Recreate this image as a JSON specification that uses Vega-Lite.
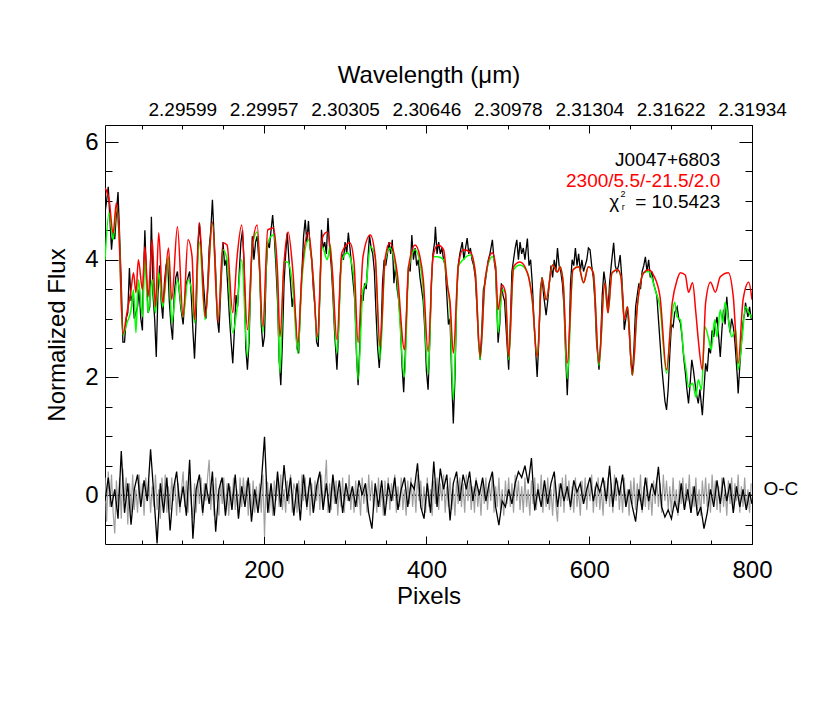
{
"$schema": "https://vega.github.io/schema/vega-lite/v6.json",
"width": 647, "height": 419,
"autosize": {"type": "none"},
"padding": {"left": 105, "top": 125, "right": 78, "bottom": 168},
"background": "white",
"config": {
  "view": {"stroke": "black", "strokeWidth": 1},
  "font": "Liberation Sans",
  "axis": {"labelFont": "Liberation Sans", "titleFont": "Liberation Sans", "labelColor": "black", "titleColor": "black", "tickColor": "black", "tickWidth": 1, "domain": false, "grid": false, "titleFontWeight": "normal", "labelFlush": false, "labelOverlap": false}
},
"datasets": {
"obs": [
{"x":5,"y":4.8},{"x":7,"y":5.0},{"x":9,"y":5.24},{"x":11,"y":4.7},{"x":13,"y":4.17},{"x":15,"y":4.5},{"x":17,"y":4.35},{"x":19,"y":4.8},{"x":21,"y":5.15},{"x":23,"y":4.4},{"x":25,"y":3.6},{"x":27,"y":2.6},{"x":29,"y":2.6},{"x":31,"y":3.0},{"x":33,"y":3.1},{"x":35,"y":3.86},{"x":37,"y":3.3},{"x":39,"y":3.4},{"x":41,"y":3.0},{"x":43,"y":3.1},{"x":45,"y":3.2},{"x":47,"y":3.5},{"x":49,"y":3.0},{"x":51,"y":2.8},{"x":52,"y":3.6},{"x":54,"y":4.5},{"x":56,"y":3.7},{"x":58,"y":3.1},{"x":60,"y":3.2},{"x":62,"y":4.73},{"x":64,"y":3.4},{"x":66,"y":3.0},{"x":68,"y":2.35},{"x":70,"y":3.4},{"x":72,"y":3.9},{"x":74,"y":3.3},{"x":76,"y":3.0},{"x":78,"y":3.6},{"x":80,"y":3.9},{"x":82,"y":4.0},{"x":84,"y":3.3},{"x":86,"y":2.9},{"x":88,"y":2.64},{"x":90,"y":3.4},{"x":92,"y":3.7},{"x":94,"y":3.8},{"x":96,"y":3.5},{"x":98,"y":3.2},{"x":101,"y":2.9},{"x":103,"y":3.3},{"x":105,"y":3.6},{"x":107,"y":3.7},{"x":109,"y":3.8},{"x":111,"y":3.4},{"x":113,"y":2.8},{"x":115,"y":2.32},{"x":117,"y":3.0},{"x":119,"y":4.2},{"x":121,"y":4.63},{"x":123,"y":4.2},{"x":125,"y":3.8},{"x":127,"y":3.4},{"x":129,"y":3.0},{"x":131,"y":3.5},{"x":133,"y":4.2},{"x":135,"y":4.5},{"x":137,"y":5.02},{"x":139,"y":4.4},{"x":141,"y":3.8},{"x":143,"y":3.0},{"x":145,"y":2.76},{"x":147,"y":3.4},{"x":150,"y":4.3},{"x":152,"y":3.9},{"x":154,"y":4.0},{"x":156,"y":3.5},{"x":158,"y":3.0},{"x":160,"y":2.6},{"x":162,"y":2.24},{"x":164,"y":2.8},{"x":166,"y":3.4},{"x":168,"y":3.2},{"x":170,"y":3.8},{"x":172,"y":4.3},{"x":174,"y":4.5},{"x":176,"y":3.9},{"x":178,"y":2.5},{"x":180,"y":2.13},{"x":182,"y":2.6},{"x":184,"y":3.6},{"x":186,"y":4.4},{"x":188,"y":4.0},{"x":190,"y":4.3},{"x":192,"y":4.4},{"x":195,"y":3.8},{"x":197,"y":2.9},{"x":199,"y":2.52},{"x":201,"y":2.7},{"x":203,"y":3.8},{"x":205,"y":4.3},
{"x":207,"y":4.2},{"x":209,"y":4.5},{"x":211,"y":4.76},{"x":213,"y":4.4},{"x":215,"y":3.9},{"x":217,"y":3.3},{"x":219,"y":2.3},{"x":221,"y":1.87},{"x":223,"y":2.6},{"x":225,"y":3.6},{"x":227,"y":4.1},{"x":229,"y":4.46},{"x":231,"y":4.0},{"x":233,"y":3.6},{"x":235,"y":3.2},{"x":237,"y":3.4},{"x":239,"y":3.0},{"x":241,"y":2.5},{"x":243,"y":2.41},{"x":245,"y":3.2},{"x":247,"y":3.8},{"x":249,"y":4.4},{"x":251,"y":4.68},{"x":253,"y":4.3},{"x":255,"y":4.66},{"x":257,"y":4.2},{"x":259,"y":4.0},{"x":261,"y":3.5},{"x":263,"y":3.2},{"x":265,"y":2.6},{"x":267,"y":2.52},{"x":269,"y":3.4},{"x":271,"y":4.51},{"x":273,"y":4.2},{"x":275,"y":4.3},{"x":277,"y":4.1},{"x":279,"y":4.71},{"x":281,"y":4.2},{"x":283,"y":3.9},{"x":285,"y":3.4},{"x":287,"y":2.8},{"x":290,"y":2.13},{"x":292,"y":2.8},{"x":294,"y":3.7},{"x":296,"y":4.1},{"x":298,"y":4.0},{"x":300,"y":4.3},{"x":302,"y":4.1},{"x":304,"y":4.46},{"x":306,"y":4.2},{"x":308,"y":3.9},{"x":310,"y":3.6},{"x":312,"y":3.3},{"x":314,"y":2.4},{"x":316,"y":1.87},{"x":318,"y":2.5},{"x":320,"y":3.4},{"x":322,"y":3.3},{"x":324,"y":3.6},{"x":326,"y":3.5},{"x":328,"y":4.0},{"x":330,"y":4.42},{"x":332,"y":4.2},{"x":334,"y":4.1},{"x":336,"y":3.8},{"x":338,"y":3.1},{"x":340,"y":2.5},{"x":342,"y":2.16},{"x":344,"y":2.6},{"x":346,"y":3.6},{"x":348,"y":4.0},{"x":350,"y":3.9},{"x":352,"y":4.1},{"x":354,"y":4.3},{"x":356,"y":4.1},{"x":358,"y":4.34},{"x":360,"y":3.6},{"x":362,"y":3.9},{"x":364,"y":3.5},{"x":366,"y":3.3},{"x":368,"y":2.9},{"x":370,"y":2.2},{"x":372,"y":1.75},{"x":374,"y":2.4},{"x":376,"y":3.3},{"x":378,"y":3.9},{"x":380,"y":3.8},{"x":382,"y":4.42},{"x":384,"y":4.0},{"x":386,"y":4.2},{"x":388,"y":3.9},{"x":390,"y":4.0},{"x":392,"y":3.7},{"x":394,"y":3.5},{"x":396,"y":3.3},{"x":398,"y":2.8},{"x":400,"y":2.1},{"x":402,"y":1.79},
{"x":404,"y":2.6},{"x":406,"y":3.6},{"x":408,"y":4.1},{"x":410,"y":4.3},{"x":411,"y":4.56},{"x":413,"y":4.1},{"x":415,"y":4.3},{"x":417,"y":4.1},{"x":419,"y":4.2},{"x":421,"y":4.0},{"x":423,"y":3.9},{"x":425,"y":3.4},{"x":427,"y":2.9},{"x":429,"y":3.0},{"x":431,"y":2.0},{"x":433,"y":1.22},{"x":435,"y":2.0},{"x":437,"y":3.3},{"x":439,"y":3.9},{"x":441,"y":4.1},{"x":444,"y":4.3},{"x":446,"y":4.0},{"x":448,"y":4.2},{"x":450,"y":4.37},{"x":452,"y":4.1},{"x":454,"y":4.2},{"x":456,"y":4.0},{"x":458,"y":3.9},{"x":460,"y":3.7},{"x":462,"y":3.2},{"x":464,"y":2.6},{"x":466,"y":2.3},{"x":468,"y":2.8},{"x":470,"y":3.5},{"x":472,"y":3.6},{"x":474,"y":3.8},{"x":476,"y":4.0},{"x":478,"y":4.1},{"x":481,"y":4.34},{"x":483,"y":4.0},{"x":485,"y":3.8},{"x":487,"y":3.0},{"x":488,"y":2.59},{"x":490,"y":2.9},{"x":492,"y":3.6},{"x":494,"y":3.4},{"x":496,"y":3.3},{"x":498,"y":2.8},{"x":501,"y":2.13},{"x":503,"y":2.9},{"x":505,"y":3.8},{"x":507,"y":4.0},{"x":509,"y":4.2},{"x":511,"y":4.34},{"x":513,"y":4.0},{"x":515,"y":4.3},{"x":517,"y":4.1},{"x":519,"y":4.2},{"x":521,"y":4.0},{"x":524,"y":4.36},{"x":526,"y":3.9},{"x":528,"y":4.0},{"x":530,"y":3.6},{"x":532,"y":3.0},{"x":534,"y":2.5},{"x":536,"y":2.01},{"x":538,"y":2.6},{"x":540,"y":3.5},{"x":542,"y":3.7},{"x":544,"y":3.4},{"x":547,"y":3.06},{"x":549,"y":3.3},{"x":551,"y":3.6},{"x":553,"y":3.9},{"x":555,"y":3.7},{"x":557,"y":4.0},{"x":559,"y":3.8},{"x":561,"y":4.2},{"x":563,"y":3.9},{"x":565,"y":3.8},{"x":567,"y":3.6},{"x":569,"y":3.2},{"x":571,"y":2.4},{"x":573,"y":1.7},{"x":575,"y":2.4},{"x":577,"y":3.6},{"x":579,"y":4.0},{"x":581,"y":3.9},{"x":583,"y":4.2},{"x":585,"y":3.9},{"x":587,"y":4.1},{"x":589,"y":3.8},{"x":591,"y":4.0},{"x":593,"y":3.8},{"x":595,"y":3.9},{"x":597,"y":4.0},{"x":599,"y":4.2},
{"x":601,"y":4.17},{"x":603,"y":3.9},{"x":605,"y":3.7},{"x":607,"y":3.3},{"x":609,"y":2.6},{"x":612,"y":2.13},{"x":614,"y":2.6},{"x":616,"y":3.4},{"x":618,"y":3.8},{"x":620,"y":3.6},{"x":622,"y":3.3},{"x":623,"y":3.1},{"x":625,"y":3.6},{"x":627,"y":3.9},{"x":630,"y":4.29},{"x":632,"y":3.9},{"x":634,"y":3.8},{"x":636,"y":3.9},{"x":638,"y":4.08},{"x":640,"y":3.7},{"x":642,"y":3.2},{"x":643,"y":2.81},{"x":645,"y":3.0},{"x":647,"y":3.2},{"x":649,"y":2.8},{"x":651,"y":2.3},{"x":653,"y":2.04},{"x":655,"y":2.5},{"x":657,"y":3.2},{"x":659,"y":3.4},{"x":661,"y":3.6},{"x":663,"y":3.5},{"x":665,"y":3.8},{"x":667,"y":3.9},{"x":669,"y":4.05},{"x":671,"y":3.8},{"x":673,"y":4.0},{"x":675,"y":3.7},{"x":677,"y":3.8},{"x":679,"y":3.6},{"x":681,"y":3.5},{"x":683,"y":3.4},{"x":685,"y":3.0},{"x":687,"y":2.6},{"x":689,"y":2.2},{"x":691,"y":1.9},{"x":693,"y":1.6},{"x":695,"y":1.45},{"x":697,"y":1.8},{"x":699,"y":2.4},{"x":701,"y":2.9},{"x":703,"y":2.86},{"x":705,"y":3.1},{"x":708,"y":3.2},{"x":710,"y":3.0},{"x":712,"y":2.93},{"x":714,"y":2.7},{"x":716,"y":2.35},{"x":718,"y":2.1},{"x":720,"y":1.8},{"x":722,"y":1.56},{"x":724,"y":1.9},{"x":726,"y":2.3},{"x":728,"y":2.13},{"x":730,"y":1.9},{"x":732,"y":1.7},{"x":734,"y":1.56},{"x":736,"y":1.8},{"x":738,"y":1.5},{"x":739,"y":1.36},{"x":741,"y":1.8},{"x":743,"y":2.24},{"x":745,"y":2.1},{"x":747,"y":2.5},{"x":749,"y":2.41},{"x":751,"y":2.8},{"x":753,"y":2.69},{"x":755,"y":2.9},{"x":757,"y":3.03},{"x":759,"y":2.7},{"x":761,"y":2.35},{"x":763,"y":2.8},{"x":765,"y":3.15},{"x":767,"y":2.9},{"x":769,"y":3.37},{"x":771,"y":3.0},{"x":773,"y":2.76},{"x":775,"y":3.0},{"x":777,"y":2.86},{"x":779,"y":2.6},{"x":780,"y":2.41},{"x":782,"y":2.0},{"x":783,"y":1.73},{"x":785,"y":2.2},{"x":787,"y":2.6},{"x":789,"y":2.93},{"x":791,"y":3.1},{"x":792,"y":3.27},{"x":794,"y":3.1},{"x":795,"y":3.03},{"x":797,"y":3.2},{"x":799,"y":3.0},{"x":800,"y":3.05}
],
"grn": [
{"x":5,"y":4.0},{"x":10,"y":4.8},{"x":15,"y":4.34},{"x":19,"y":4.88},{"x":22,"y":4.51},{"x":27,"y":2.72},{"x":32,"y":2.93},{"x":37,"y":3.15},{"x":40,"y":3.49},{"x":43,"y":2.76},{"x":46,"y":3.66},{"x":51,"y":3.03},{"x":54,"y":4.0},{"x":58,"y":3.1},{"x":63,"y":3.66},{"x":67,"y":3.1},{"x":71,"y":3.78},{"x":76,"y":3.2},{"x":83,"y":4.05},{"x":87,"y":2.93},{"x":94,"y":3.66},{"x":101,"y":3.03},{"x":107,"y":3.66},{"x":112,"y":3.44},{"x":115,"y":2.93},{"x":121,"y":4.3},{"x":128,"y":2.98},{"x":137,"y":4.63},{"x":144,"y":2.98},{"x":150,"y":4.17},{"x":155,"y":4.0},{"x":162,"y":2.76},{"x":167,"y":3.15},{"x":173,"y":4.0},{"x":180,"y":2.35},{"x":186,"y":4.22},{"x":192,"y":4.47},{"x":199,"y":2.76},{"x":205,"y":4.29},{"x":212,"y":4.42},{"x":217,"y":3.54},{"x":220,"y":2.07},{"x":225,"y":3.97},{"x":230,"y":3.95},{"x":236,"y":3.49},{"x":242,"y":2.41},{"x":247,"y":3.66},{"x":255,"y":4.34},{"x":261,"y":3.66},{"x":266,"y":2.64},{"x":272,"y":4.22},{"x":278,"y":4.0},{"x":282,"y":4.25},{"x":284,"y":3.83},{"x":290,"y":2.41},{"x":296,"y":4.0},{"x":303,"y":4.12},{"x":306,"y":4.05},{"x":311,"y":3.66},{"x":316,"y":1.96},{"x":322,"y":3.49},{"x":326,"y":3.61},{"x":331,"y":4.22},{"x":337,"y":4.05},{"x":343,"y":2.3},{"x":349,"y":3.95},{"x":355,"y":4.2},{"x":364,"y":3.66},{"x":373,"y":2.01},{"x":378,"y":3.83},{"x":386,"y":4.17},{"x":392,"y":3.95},{"x":396,"y":3.49},{"x":402,"y":2.05},{"x":408,"y":4.05},{"x":414,"y":4.05},{"x":421,"y":4.0},{"x":426,"y":3.54},{"x":429,"y":3.15},{"x":433,"y":1.62},{"x":439,"y":3.88},{"x":445,"y":4.0},{"x":454,"y":4.08},{"x":460,"y":3.78},{"x":466,"y":2.3},{"x":472,"y":3.66},{"x":481,"y":4.05},{"x":485,"y":3.88},{"x":488,"y":2.76},{"x":493,"y":3.49},{"x":497,"y":3.44},{"x":501,"y":2.3},{"x":507,"y":3.83},{"x":515,"y":3.91},{"x":524,"y":3.78},{"x":530,"y":3.32},{"x":536,"y":2.35},{"x":542,"y":3.69},{"x":547,"y":3.32},{"x":555,"y":3.91},{"x":561,"y":3.79},{"x":564,"y":3.88},{"x":568,"y":3.61},{"x":573,"y":1.98},{"x":580,"y":3.83},{"x":587,"y":3.88},{"x":593,"y":3.61},{"x":599,"y":3.88},{"x":605,"y":3.78},{"x":612,"y":2.2},{"x":619,"y":3.61},{"x":623,"y":3.1},{"x":628,"y":3.78},{"x":635,"y":3.83},{"x":639,"y":3.71},{"x":643,"y":2.98},{"x":647,"y":3.2},{"x":653,"y":2.04},{"x":659,"y":3.2},{"x":667,"y":3.78},{"x":673,"y":3.8},{"x":679,"y":3.6},{"x":681,"y":3.49},{"x":687,"y":3.2},{"x":695,"y":2.07},{"x":700,"y":2.86},{"x":705,"y":3.28},{"x":708,"y":3.03},{"x":712,"y":2.98},{"x":716,"y":2.41},{"x":719,"y":2.13},{"x":722,"y":1.84},{"x":727,"y":1.9},{"x":731,"y":1.67},{"x":734,"y":1.96},{"x":738,"y":1.79},{"x":742,"y":2.86},{"x":747,"y":2.64},{"x":750,"y":2.47},{"x":754,"y":2.98},{"x":757,"y":2.69},{"x":761,"y":3.15},{"x":764,"y":2.93},{"x":767,"y":3.28},{"x":771,"y":2.98},{"x":775,"y":2.69},{"x":780,"y":2.81},{"x":783,"y":2.13},{"x":788,"y":2.69},{"x":792,"y":3.2},{"x":796,"y":3.1},{"x":800,"y":3.01}
],
"red": [
{"x":5,"y":5.22},{"x":10,"y":5.02},{"x":15,"y":4.46},{"x":19,"y":4.97},{"x":22,"y":4.51},{"x":27,"y":2.74},{"x":32,"y":3.1},{"x":37,"y":3.49},{"x":40,"y":3.78},{"x":43,"y":3.44},{"x":46,"y":4.0},{"x":51,"y":3.49},{"x":54,"y":4.22},{"x":58,"y":3.37},{"x":63,"y":4.34},{"x":67,"y":3.2},{"x":71,"y":4.46},{"x":76,"y":3.27},{"x":83,"y":4.2},{"x":87,"y":3.32},{"x":94,"y":4.56},{"x":101,"y":3.03},{"x":107,"y":4.34},{"x":112,"y":4.05},{"x":115,"y":2.98},{"x":121,"y":4.63},{"x":128,"y":3.03},{"x":137,"y":4.64},{"x":144,"y":2.94},{"x":150,"y":4.29},{"x":155,"y":4.25},{"x":162,"y":3.1},{"x":167,"y":4.0},{"x":173,"y":4.59},{"x":180,"y":2.81},{"x":186,"y":4.22},{"x":192,"y":4.59},{"x":199,"y":2.86},{"x":205,"y":4.51},{"x":212,"y":4.54},{"x":217,"y":3.78},{"x":220,"y":2.69},{"x":225,"y":3.95},{"x":230,"y":4.47},{"x":236,"y":3.78},{"x":242,"y":2.59},{"x":247,"y":3.78},{"x":255,"y":4.47},{"x":261,"y":3.66},{"x":266,"y":2.69},{"x":272,"y":4.37},{"x":278,"y":4.47},{"x":284,"y":3.88},{"x":290,"y":2.64},{"x":296,"y":4.12},{"x":306,"y":4.29},{"x":311,"y":3.95},{"x":316,"y":2.59},{"x":322,"y":4.05},{"x":331,"y":4.42},{"x":337,"y":4.05},{"x":343,"y":2.52},{"x":349,"y":4.0},{"x":355,"y":4.29},{"x":364,"y":3.78},{"x":373,"y":2.47},{"x":378,"y":3.88},{"x":386,"y":4.25},{"x":392,"y":4.05},{"x":396,"y":3.68},{"x":402,"y":2.44},{"x":408,"y":4.05},{"x":414,"y":4.25},{"x":421,"y":4.17},{"x":426,"y":3.54},{"x":429,"y":3.28},{"x":433,"y":2.41},{"x":439,"y":3.88},{"x":445,"y":4.17},{"x":454,"y":4.13},{"x":460,"y":3.78},{"x":466,"y":2.35},{"x":472,"y":3.66},{"x":481,"y":4.12},{"x":485,"y":3.88},{"x":488,"y":3.15},{"x":493,"y":3.57},{"x":497,"y":3.44},{"x":501,"y":2.35},{"x":507,"y":3.88},{"x":515,"y":3.96},{"x":524,"y":3.78},{"x":530,"y":3.32},{"x":536,"y":2.35},{"x":542,"y":3.69},{"x":547,"y":3.32},{"x":555,"y":3.91},{"x":561,"y":3.79},{"x":564,"y":3.88},{"x":568,"y":3.61},{"x":573,"y":2.24},{"x":580,"y":3.83},{"x":587,"y":3.88},{"x":593,"y":3.61},{"x":599,"y":3.88},{"x":605,"y":3.78},{"x":612,"y":2.24},{"x":619,"y":3.61},{"x":623,"y":3.1},{"x":628,"y":3.78},{"x":635,"y":3.83},{"x":639,"y":3.71},{"x":643,"y":2.98},{"x":647,"y":3.2},{"x":653,"y":2.04},{"x":659,"y":3.2},{"x":667,"y":3.78},{"x":673,"y":3.83},{"x":679,"y":3.74},{"x":687,"y":3.37},{"x":695,"y":2.13},{"x":702,"y":3.27},{"x":708,"y":3.66},{"x":712,"y":3.78},{"x":718,"y":3.74},{"x":722,"y":3.45},{"x":727,"y":3.61},{"x":731,"y":3.1},{"x":734,"y":2.64},{"x":739,"y":2.13},{"x":743,"y":3.27},{"x":749,"y":3.62},{"x":755,"y":3.45},{"x":761,"y":3.71},{"x":771,"y":3.78},{"x":777,"y":3.37},{"x":783,"y":2.24},{"x":789,"y":3.32},{"x":796,"y":3.62},{"x":800,"y":3.32}
],
"res": [
{"x":5,"o":-0.1},{"x":9,"o":0.3},{"x":13,"o":-0.2},{"x":17,"o":0.1},{"x":21,"o":-0.4},{"x":25,"o":0.75},{"x":29,"o":-0.3},{"x":33,"o":0.2},{"x":37,"o":-0.5},{"x":41,"o":0.1},{"x":45,"o":0.35},{"x":49,"o":-0.2},{"x":53,"o":0.25},{"x":57,"o":-0.1},{"x":61,"o":0.78},{"x":65,"o":0.0},{"x":69,"o":-0.82},{"x":73,"o":0.2},{"x":77,"o":-0.3},{"x":81,"o":0.3},{"x":85,"o":-0.6},{"x":89,"o":0.1},{"x":93,"o":0.4},{"x":97,"o":-0.2},{"x":101,"o":0.15},{"x":105,"o":-0.35},{"x":109,"o":0.6},{"x":113,"o":-0.74},{"x":117,"o":0.1},{"x":121,"o":0.35},{"x":125,"o":-0.3},{"x":129,"o":0.2},{"x":133,"o":-0.15},{"x":137,"o":0.4},{"x":141,"o":-0.62},{"x":145,"o":0.1},{"x":149,"o":0.3},{"x":153,"o":-0.35},{"x":157,"o":0.2},{"x":161,"o":-0.25},{"x":165,"o":0.35},{"x":169,"o":-0.4},{"x":173,"o":0.15},{"x":177,"o":-0.2},{"x":181,"o":0.3},{"x":185,"o":-0.45},{"x":189,"o":0.1},{"x":193,"o":-0.3},{"x":197,"o":0.2},{"x":201,"o":0.99},{"x":205,"o":-0.3},{"x":209,"o":0.2},{"x":213,"o":-0.35},{"x":217,"o":0.4},{"x":221,"o":-0.2},{"x":225,"o":0.51},{"x":229,"o":-0.1},{"x":233,"o":0.3},{"x":237,"o":-0.35},{"x":241,"o":0.2},{"x":245,"o":-0.43},{"x":249,"o":0.35},{"x":253,"o":-0.2},{"x":257,"o":0.3},{"x":261,"o":-0.3},{"x":265,"o":0.15},{"x":269,"o":0.4},{"x":273,"o":-0.25},{"x":277,"o":0.2},{"x":281,"o":-0.3},{"x":285,"o":0.35},{"x":289,"o":-0.15},{"x":293,"o":0.25},{"x":297,"o":-0.3},{"x":301,"o":0.2},{"x":305,"o":-0.1},{"x":309,"o":0.15},{"x":313,"o":-0.2},{"x":317,"o":0.25},{"x":321,"o":0.0},{"x":325,"o":0.2},{"x":329,"o":-0.3},{"x":333,"o":-0.57},{"x":337,"o":0.2},{"x":341,"o":-0.2},{"x":345,"o":0.25},{"x":349,"o":-0.35},{"x":353,"o":0.2},{"x":357,"o":-0.1},{"x":361,"o":0.3},{"x":365,"o":-0.25},{"x":369,"o":0.1},{"x":373,"o":0.3},{"x":377,"o":-0.2},{"x":381,"o":0.2},{"x":385,"o":0.1},{"x":389,"o":0.54},{"x":393,"o":-0.2},{"x":397,"o":-0.4},{"x":401,"o":0.2},{"x":405,"o":-0.3},{"x":409,"o":0.57},{"x":413,"o":-0.2},{"x":417,"o":0.45},{"x":421,"o":0.1},{"x":425,"o":0.35},{"x":429,"o":-0.43},{"x":433,"o":0.2},{"x":437,"o":0.4},{"x":441,"o":-0.1},{"x":445,"o":0.35},{"x":449,"o":0.1},{"x":453,"o":0.4},{"x":457,"o":-0.1},{"x":461,"o":0.25},{"x":465,"o":0.0},{"x":469,"o":0.3},{"x":473,"o":-0.1},{"x":477,"o":0.2},{"x":481,"o":0.4},{"x":485,"o":-0.2},{"x":489,"o":-0.51},{"x":493,"o":-0.1},{"x":497,"o":-0.2},{"x":501,"o":0.1},{"x":505,"o":-0.15},{"x":509,"o":0.2},{"x":513,"o":0.4},{"x":517,"o":0.3},{"x":521,"o":0.5},{"x":525,"o":0.2},{"x":529,"o":0.63},{"x":533,"o":-0.26},{"x":537,"o":0.1},{"x":541,"o":-0.2},{"x":545,"o":0.25},{"x":549,"o":-0.15},{"x":553,"o":0.2},{"x":557,"o":0.4},{"x":561,"o":-0.2},{"x":565,"o":0.2},{"x":569,"o":-0.1},{"x":573,"o":0.15},{"x":577,"o":-0.2},{"x":581,"o":0.25},{"x":585,"o":0.05},{"x":589,"o":0.2},{"x":593,"o":-0.15},{"x":597,"o":0.1},{"x":601,"o":0.3},{"x":605,"o":-0.1},{"x":609,"o":0.2},{"x":613,"o":0.05},{"x":617,"o":0.3},{"x":621,"o":-0.1},{"x":625,"o":0.5},{"x":629,"o":-0.2},{"x":633,"o":0.3},{"x":637,"o":0.0},{"x":641,"o":0.35},{"x":645,"o":-0.2},{"x":649,"o":0.1},{"x":653,"o":-0.2},{"x":657,"o":-0.45},{"x":661,"o":0.1},{"x":665,"o":-0.25},{"x":669,"o":0.3},{"x":673,"o":-0.1},{"x":677,"o":0.2},{"x":681,"o":0.0},{"x":685,"o":0.48},{"x":689,"o":-0.2},{"x":693,"o":-0.37},{"x":697,"o":-0.25},{"x":701,"o":-0.4},{"x":705,"o":-0.1},{"x":709,"o":-0.3},{"x":713,"o":0.2},{"x":717,"o":-0.25},{"x":721,"o":0.1},{"x":725,"o":-0.3},{"x":729,"o":0.15},{"x":733,"o":-0.35},{"x":737,"o":-0.2},{"x":741,"o":-0.57},{"x":745,"o":-0.3},{"x":749,"o":0.1},{"x":753,"o":-0.2},{"x":757,"o":0.25},{"x":761,"o":-0.15},{"x":765,"o":0.3},{"x":769,"o":-0.1},{"x":773,"o":0.2},{"x":777,"o":-0.3},{"x":781,"o":0.15},{"x":785,"o":-0.2},{"x":789,"o":0.1},{"x":793,"o":-0.25},{"x":797,"o":0.05},{"x":800,"o":-0.15}
],
"gry": [
{"x":5,"m":0.3},{"x":7,"m":-0.45},{"x":9,"m":0.4},{"x":11,"m":-0.2},{"x":13,"m":0.35},{"x":15,"m":-0.3},{"x":17,"m":-0.65},{"x":19,"m":0.25},{"x":21,"m":-0.2},{"x":23,"m":0.3},
{"x":25,"m":-0.4},{"x":27,"m":0.45},{"x":29,"m":-0.1},{"x":31,"m":0.3},{"x":33,"m":-0.5},{"x":35,"m":0.2},{"x":37,"m":-0.3},{"x":39,"m":0.35},{"x":41,"m":-0.25},{"x":43,"m":0.1},
{"x":45,"m":-0.3},{"x":47,"m":0.35},{"x":49,"m":-0.15},{"x":51,"m":0.2},{"x":53,"m":-0.35},{"x":55,"m":0.3},{"x":57,"m":-0.1},{"x":59,"m":0.25},{"x":61,"m":-0.3},{"x":63,"m":0.15},
{"x":65,"m":-0.2},{"x":67,"m":0.35},{"x":69,"m":-0.25},{"x":71,"m":0.1},{"x":73,"m":-0.4},{"x":75,"m":0.3},{"x":77,"m":-0.2},{"x":79,"m":0.35},{"x":81,"m":-0.3},{"x":83,"m":0.15},
{"x":85,"m":-0.25},{"x":87,"m":0.3},{"x":89,"m":-0.1},{"x":91,"m":0.25},{"x":93,"m":-0.35},{"x":95,"m":0.2},{"x":97,"m":-0.3},{"x":99,"m":0.1},{"x":101,"m":0.4},{"x":103,"m":-0.2},
{"x":105,"m":0.25},{"x":107,"m":-0.3},{"x":109,"m":0.3},{"x":111,"m":-0.15},{"x":113,"m":-0.4},{"x":115,"m":0.2},{"x":117,"m":-0.3},{"x":119,"m":0.25},{"x":121,"m":-0.15},{"x":123,"m":0.3},
{"x":125,"m":-0.35},{"x":127,"m":0.2},{"x":129,"m":-0.1},{"x":131,"m":0.3},{"x":133,"m":0.6},{"x":135,"m":-0.25},{"x":137,"m":0.2},{"x":139,"m":-0.35},{"x":141,"m":0.3},{"x":143,"m":-0.1},
{"x":145,"m":-0.35},{"x":147,"m":0.25},{"x":149,"m":-0.15},{"x":151,"m":0.3},{"x":153,"m":-0.3},{"x":155,"m":0.2},{"x":157,"m":-0.35},{"x":159,"m":0.15},{"x":161,"m":-0.2},{"x":163,"m":0.3},
{"x":165,"m":-0.25},{"x":167,"m":0.1},{"x":169,"m":-0.35},{"x":171,"m":0.3},{"x":173,"m":-0.2},{"x":175,"m":0.3},{"x":177,"m":-0.1},{"x":179,"m":0.25},{"x":181,"m":-0.35},{"x":183,"m":0.2},
{"x":185,"m":-0.3},{"x":187,"m":0.25},{"x":189,"m":-0.3},{"x":191,"m":0.15},{"x":193,"m":-0.25},{"x":195,"m":0.2},{"x":197,"m":-0.3},{"x":199,"m":0.35},{"x":201,"m":-0.7},{"x":203,"m":0.25},
{"x":205,"m":0.2},{"x":207,"m":-0.3},{"x":209,"m":0.15},{"x":211,"m":-0.35},{"x":213,"m":0.25},{"x":215,"m":-0.1},{"x":217,"m":0.3},{"x":219,"m":-0.2},{"x":221,"m":0.35},{"x":223,"m":-0.25},
{"x":225,"m":0.1},{"x":227,"m":-0.3},{"x":229,"m":0.25},{"x":231,"m":-0.15},{"x":233,"m":0.35},{"x":235,"m":-0.3},{"x":237,"m":0.2},{"x":239,"m":0.1},{"x":241,"m":-0.3},{"x":243,"m":0.25},
{"x":245,"m":-0.2},{"x":247,"m":0.35},{"x":249,"m":-0.1},{"x":251,"m":0.3},{"x":253,"m":-0.25},{"x":255,"m":0.15},{"x":257,"m":-0.35},{"x":259,"m":0.2},{"x":261,"m":-0.3},{"x":263,"m":0.25},
{"x":265,"m":-0.1},{"x":267,"m":0.3},{"x":269,"m":-0.25},{"x":271,"m":0.35},{"x":273,"m":-0.2},{"x":275,"m":0.15},{"x":277,"m":0.6},{"x":279,"m":-0.3},{"x":281,"m":0.2},{"x":283,"m":-0.25},
{"x":285,"m":0.3},{"x":287,"m":-0.15},{"x":289,"m":0.25},{"x":291,"m":-0.35},{"x":293,"m":0.1},{"x":295,"m":-0.2},{"x":297,"m":0.3},{"x":299,"m":-0.3},{"x":301,"m":0.2},{"x":303,"m":-0.1},
{"x":305,"m":0.35},{"x":307,"m":-0.25},{"x":309,"m":0.15},{"x":311,"m":-0.3},{"x":313,"m":0.25},{"x":315,"m":-0.2},{"x":317,"m":0.1},{"x":319,"m":-0.35},{"x":321,"m":0.3},{"x":323,"m":-0.15},
{"x":325,"m":0.2},{"x":327,"m":-0.3},{"x":329,"m":0.35},{"x":331,"m":-0.1},{"x":333,"m":0.25},{"x":335,"m":-0.25},{"x":337,"m":0.15},{"x":339,"m":-0.3},{"x":341,"m":0.3},{"x":343,"m":-0.2},
{"x":345,"m":0.1},{"x":347,"m":-0.35},{"x":349,"m":0.25},{"x":351,"m":-0.15},{"x":353,"m":0.3},{"x":355,"m":-0.25},{"x":357,"m":0.2},{"x":359,"m":-0.1},{"x":361,"m":0.35},{"x":363,"m":-0.3},
{"x":365,"m":0.15},{"x":367,"m":-0.2},{"x":369,"m":0.3},{"x":371,"m":-0.25},{"x":373,"m":0.1},{"x":375,"m":-0.35},{"x":377,"m":0.25},{"x":379,"m":-0.15},{"x":381,"m":0.3},{"x":383,"m":-0.2},
{"x":385,"m":0.2},{"x":387,"m":-0.3},{"x":389,"m":0.35},{"x":391,"m":-0.1},{"x":393,"m":0.25},{"x":395,"m":-0.25},{"x":397,"m":0.15},{"x":399,"m":-0.3},{"x":401,"m":0.3},{"x":403,"m":-0.2},
{"x":405,"m":0.1},{"x":407,"m":-0.35},{"x":409,"m":0.25},{"x":411,"m":-0.15},{"x":413,"m":0.3},{"x":415,"m":-0.25},{"x":417,"m":0.2},{"x":419,"m":-0.1},{"x":421,"m":0.35},{"x":423,"m":-0.3},
{"x":425,"m":0.15},{"x":427,"m":-0.2},{"x":429,"m":0.3},{"x":431,"m":-0.25},{"x":433,"m":0.1},{"x":435,"m":-0.35},{"x":437,"m":0.25},{"x":439,"m":-0.15},{"x":441,"m":0.3},{"x":443,"m":-0.2},
{"x":445,"m":0.2},{"x":447,"m":-0.3},{"x":449,"m":0.35},{"x":451,"m":-0.1},{"x":453,"m":0.25},{"x":455,"m":-0.25},{"x":457,"m":0.15},{"x":459,"m":-0.3},{"x":461,"m":0.3},{"x":463,"m":-0.2},
{"x":465,"m":0.1},{"x":467,"m":-0.35},{"x":469,"m":0.25},{"x":471,"m":-0.15},{"x":473,"m":0.3},{"x":475,"m":-0.25},{"x":477,"m":0.2},{"x":479,"m":-0.1},{"x":481,"m":0.35},{"x":483,"m":-0.3},
{"x":485,"m":0.15},{"x":487,"m":-0.2},{"x":489,"m":0.3},{"x":491,"m":-0.25},{"x":493,"m":0.1},{"x":495,"m":-0.35},{"x":497,"m":0.25},{"x":499,"m":-0.15},{"x":501,"m":0.3},{"x":503,"m":-0.2},
{"x":505,"m":0.2},{"x":507,"m":-0.3},{"x":509,"m":0.35},{"x":511,"m":-0.1},{"x":513,"m":0.25},{"x":515,"m":-0.25},{"x":517,"m":0.15},{"x":519,"m":-0.3},{"x":521,"m":0.3},{"x":523,"m":-0.2},
{"x":525,"m":0.1},{"x":527,"m":-0.35},{"x":529,"m":0.25},{"x":531,"m":-0.15},{"x":533,"m":0.3},{"x":535,"m":-0.25},{"x":537,"m":0.2},{"x":539,"m":-0.1},{"x":541,"m":0.35},{"x":543,"m":-0.3},
{"x":545,"m":0.15},{"x":547,"m":-0.2},{"x":549,"m":0.3},{"x":551,"m":-0.25},{"x":553,"m":0.1},{"x":555,"m":-0.35},{"x":557,"m":0.25},{"x":559,"m":-0.15},{"x":561,"m":-0.45},{"x":563,"m":0.2},
{"x":565,"m":-0.2},{"x":567,"m":0.3},{"x":569,"m":-0.3},{"x":571,"m":0.35},{"x":573,"m":-0.1},{"x":575,"m":0.25},{"x":577,"m":-0.25},{"x":579,"m":0.15},{"x":581,"m":-0.3},{"x":583,"m":0.3},
{"x":585,"m":-0.2},{"x":587,"m":0.1},{"x":589,"m":-0.35},{"x":591,"m":0.25},{"x":593,"m":-0.15},{"x":595,"m":0.3},{"x":597,"m":-0.25},{"x":599,"m":0.2},{"x":601,"m":-0.1},{"x":603,"m":0.35},
{"x":605,"m":-0.3},{"x":607,"m":0.15},{"x":609,"m":-0.2},{"x":611,"m":0.3},{"x":613,"m":-0.25},{"x":615,"m":0.1},{"x":617,"m":-0.35},{"x":619,"m":0.25},{"x":621,"m":-0.15},{"x":623,"m":0.3},
{"x":625,"m":-0.2},{"x":627,"m":0.2},{"x":629,"m":-0.3},{"x":631,"m":0.35},{"x":633,"m":-0.1},{"x":635,"m":0.25},{"x":637,"m":-0.25},{"x":639,"m":0.15},{"x":641,"m":-0.3},{"x":643,"m":0.3},
{"x":645,"m":-0.2},{"x":647,"m":0.1},{"x":649,"m":-0.35},{"x":651,"m":0.25},{"x":653,"m":-0.15},{"x":655,"m":0.3},{"x":657,"m":-0.25},{"x":659,"m":0.2},{"x":661,"m":-0.1},{"x":663,"m":0.35},
{"x":665,"m":-0.3},{"x":667,"m":0.15},{"x":669,"m":-0.2},{"x":671,"m":0.3},{"x":673,"m":-0.25},{"x":675,"m":0.1},{"x":677,"m":-0.35},{"x":679,"m":0.25},{"x":681,"m":-0.15},{"x":683,"m":0.3},
{"x":685,"m":-0.2},{"x":687,"m":0.2},{"x":689,"m":-0.3},{"x":691,"m":0.35},{"x":693,"m":-0.1},{"x":695,"m":0.25},{"x":697,"m":-0.25},{"x":699,"m":0.15},{"x":701,"m":-0.3},{"x":703,"m":0.3},
{"x":705,"m":-0.2},{"x":707,"m":0.1},{"x":709,"m":-0.35},{"x":711,"m":0.25},{"x":713,"m":-0.15},{"x":715,"m":0.3},{"x":717,"m":-0.25},{"x":719,"m":0.2},{"x":721,"m":-0.1},{"x":723,"m":0.35},
{"x":725,"m":-0.3},{"x":727,"m":0.15},{"x":729,"m":-0.2},{"x":731,"m":0.3},{"x":733,"m":-0.25},{"x":735,"m":0.1},{"x":737,"m":-0.35},{"x":739,"m":0.25},{"x":741,"m":-0.15},{"x":743,"m":0.3},
{"x":745,"m":-0.2},{"x":747,"m":0.2},{"x":749,"m":-0.3},{"x":751,"m":0.35},{"x":753,"m":-0.1},{"x":755,"m":0.25},{"x":757,"m":-0.25},{"x":759,"m":0.15},{"x":761,"m":-0.3},{"x":763,"m":0.3},
{"x":765,"m":-0.2},{"x":767,"m":0.1},{"x":769,"m":-0.35},{"x":771,"m":0.25},{"x":773,"m":-0.15},{"x":775,"m":0.3},{"x":777,"m":-0.25},{"x":779,"m":0.2},{"x":781,"m":-0.1},{"x":783,"m":0.35},
{"x":785,"m":-0.3},{"x":787,"m":0.15},{"x":789,"m":-0.2},{"x":791,"m":0.3},{"x":793,"m":-0.25},{"x":795,"m":0.1},{"x":797,"m":-0.3},{"x":799,"m":0.2}
]
},
"resolve": {"axis": {"x": "independent", "y": "independent"}},
"layer": [
{
  "data": {"name": "obs"},
  "mark": {"type": "line", "color": "black", "strokeWidth": 1.3, "clip": true},
  "encoding": {
    "x": {"field": "x", "type": "quantitative", "scale": {"domain": [5, 800], "nice": false, "zero": false},
      "axis": {"orient": "bottom", "values": [200, 400, 600, 800], "ticks": false, "labelFontSize": 24, "labelPadding": 14, "title": "Pixels", "titleFontSize": 24, "titlePadding": 2}},
    "y": {"field": "y", "type": "quantitative", "scale": {"domain": [-0.83, 6.29], "nice": false, "zero": false},
      "axis": {"orient": "left", "values": [0, 2, 4, 6], "ticks": false, "labelFontSize": 24, "labelPadding": 7, "title": "Normalized Flux", "titleFontSize": 24, "titlePadding": 15}}
  }
},
{
  "data": {"name": "grn"},
  "mark": {"type": "line", "color": "#00ff00", "strokeWidth": 1.5, "clip": true, "interpolate": "monotone"},
  "encoding": {
    "x": {"field": "x", "type": "quantitative", "scale": {"domain": [5, 800], "nice": false, "zero": false},
      "axis": {"orient": "bottom", "values": [200, 400, 600, 800], "labels": false, "tickSize": -8, "title": null}},
    "y": {"field": "y", "type": "quantitative", "scale": {"domain": [-0.83, 6.29], "nice": false, "zero": false},
      "axis": {"orient": "left", "values": [0, 2, 4, 6], "labels": false, "tickSize": -13, "title": null}}
  }
},
{
  "data": {"name": "red"},
  "mark": {"type": "line", "color": "#ff0000", "strokeWidth": 1.5, "clip": true, "interpolate": "monotone"},
  "encoding": {
    "x": {"field": "x", "type": "quantitative", "scale": {"domain": [5, 800], "nice": false, "zero": false},
      "axis": {"orient": "bottom", "values": [50, 100, 150, 200, 250, 300, 350, 400, 450, 500, 550, 600, 650, 700, 750, 800], "labels": false, "tickSize": -4, "title": null}},
    "y": {"field": "y", "type": "quantitative", "scale": {"domain": [-0.83, 6.29], "nice": false, "zero": false},
      "axis": {"orient": "left", "values": [-0.5, 0, 0.5, 1, 1.5, 2, 2.5, 3, 3.5, 4, 4.5, 5, 5.5, 6], "labels": false, "tickSize": -7, "title": null}}
  }
},
{
  "data": {"name": "gry"},
  "mark": {"type": "line", "color": "#a0a0a0", "strokeWidth": 1.2, "clip": true},
  "encoding": {
    "x": {"field": "x", "type": "quantitative", "scale": {"domain": [5, 800], "nice": false, "zero": false},
      "axis": {"orient": "top", "values": [100, 200, 300, 400, 500, 600, 700, 800], "ticks": false, "labelFontSize": 19, "labelPadding": 6,
        "labelExpr": "datum.value == 100 ? '2.29599' : datum.value == 200 ? '2.29957' : datum.value == 300 ? '2.30305' : datum.value == 400 ? '2.30646' : datum.value == 500 ? '2.30978' : datum.value == 600 ? '2.31304' : datum.value == 700 ? '2.31622' : '2.31934'",
        "title": "Wavelength (μm)", "titleFontSize": 24, "titlePadding": 13}},
    "y": {"field": "m", "type": "quantitative", "scale": {"domain": [-0.83, 6.29], "nice": false, "zero": false},
      "axis": {"orient": "right", "values": [0, 2, 4, 6], "labels": false, "tickSize": -13, "title": null}}
  }
},
{
  "data": {"values": [{}]},
  "mark": {"type": "rule", "color": "black", "strokeWidth": 1, "strokeDash": [1, 2]},
  "encoding": {"y": {"datum": 0, "type": "quantitative", "scale": {"domain": [-0.83, 6.29], "nice": false, "zero": false}, "axis": null}}
},
{
  "data": {"name": "res"},
  "mark": {"type": "line", "color": "black", "strokeWidth": 1.3, "clip": true},
  "encoding": {
    "x": {"field": "x", "type": "quantitative", "scale": {"domain": [5, 800], "nice": false, "zero": false},
      "axis": {"orient": "top", "values": [200, 400, 600, 800], "labels": false, "tickSize": -8, "title": null}},
    "y": {"field": "o", "type": "quantitative", "scale": {"domain": [-0.83, 6.29], "nice": false, "zero": false},
      "axis": {"orient": "right", "values": [-0.5, 0, 0.5, 1, 1.5, 2, 2.5, 3, 3.5, 4, 4.5, 5, 5.5, 6], "labels": false, "tickSize": -7, "title": null}}
  }
},
{
  "data": {"values": [{}]},
  "mark": {"type": "text", "text": "J0047+6803", "align": "right", "baseline": "middle", "fontSize": 19, "font": "Liberation Sans", "color": "black"},
  "encoding": {
    "x": {"datum": 761, "type": "quantitative", "scale": {"domain": [5, 800], "nice": false, "zero": false},
      "axis": {"orient": "top", "values": [50, 100, 150, 200, 250, 300, 350, 400, 450, 500, 550, 600, 650, 700, 750, 800], "labels": false, "tickSize": -4, "title": null}},
    "y": {"datum": 5.7, "type": "quantitative", "scale": {"domain": [-0.83, 6.29], "nice": false, "zero": false}, "axis": null}
  }
},
{
  "data": {"values": [{}]},
  "mark": {"type": "text", "text": "2300/5.5/-21.5/2.0", "align": "right", "baseline": "middle", "fontSize": 19, "font": "Liberation Sans", "color": "#ff0000"},
  "encoding": {
    "x": {"datum": 761, "type": "quantitative", "scale": {"domain": [5, 800], "nice": false, "zero": false}, "axis": null},
    "y": {"datum": 5.34, "type": "quantitative", "scale": {"domain": [-0.83, 6.29], "nice": false, "zero": false}, "axis": null}
  }
},
{
  "data": {"values": [{}]},
  "mark": {"type": "text", "text": "= 10.5423", "align": "right", "baseline": "middle", "fontSize": 19, "font": "Liberation Sans", "color": "black"},
  "encoding": {
    "x": {"datum": 761, "type": "quantitative", "scale": {"domain": [5, 800], "nice": false, "zero": false}, "axis": null},
    "y": {"datum": 4.98, "type": "quantitative", "scale": {"domain": [-0.83, 6.29], "nice": false, "zero": false}, "axis": null}
  }
},
{
  "data": {"values": [{}]},
  "mark": {"type": "text", "text": "χ", "align": "right", "baseline": "middle", "fontSize": 19, "font": "Liberation Sans", "color": "black"},
  "encoding": {
    "x": {"datum": 637, "type": "quantitative", "scale": {"domain": [5, 800], "nice": false, "zero": false}, "axis": null},
    "y": {"datum": 4.98, "type": "quantitative", "scale": {"domain": [-0.83, 6.29], "nice": false, "zero": false}, "axis": null}
  }
},
{
  "data": {"values": [{}]},
  "mark": {"type": "text", "text": "2", "align": "left", "baseline": "middle", "fontSize": 9, "font": "Liberation Sans", "color": "black"},
  "encoding": {
    "x": {"datum": 638.3, "type": "quantitative", "scale": {"domain": [5, 800], "nice": false, "zero": false}, "axis": null},
    "y": {"datum": 5.11, "type": "quantitative", "scale": {"domain": [-0.83, 6.29], "nice": false, "zero": false}, "axis": null}
  }
},
{
  "data": {"values": [{}]},
  "mark": {"type": "text", "text": "r", "align": "left", "baseline": "middle", "fontSize": 9, "font": "Liberation Sans", "color": "black"},
  "encoding": {
    "x": {"datum": 640, "type": "quantitative", "scale": {"domain": [5, 800], "nice": false, "zero": false}, "axis": null},
    "y": {"datum": 4.89, "type": "quantitative", "scale": {"domain": [-0.83, 6.29], "nice": false, "zero": false}, "axis": null}
  }
},
{
  "data": {"values": [{}]},
  "mark": {"type": "text", "text": "O-C", "align": "left", "baseline": "middle", "fontSize": 19, "font": "Liberation Sans", "color": "black"},
  "encoding": {
    "x": {"datum": 814, "type": "quantitative", "scale": {"domain": [5, 800], "nice": false, "zero": false}, "axis": null},
    "y": {"datum": 0.1, "type": "quantitative", "scale": {"domain": [-0.83, 6.29], "nice": false, "zero": false}, "axis": null}
  }
}
]
}
